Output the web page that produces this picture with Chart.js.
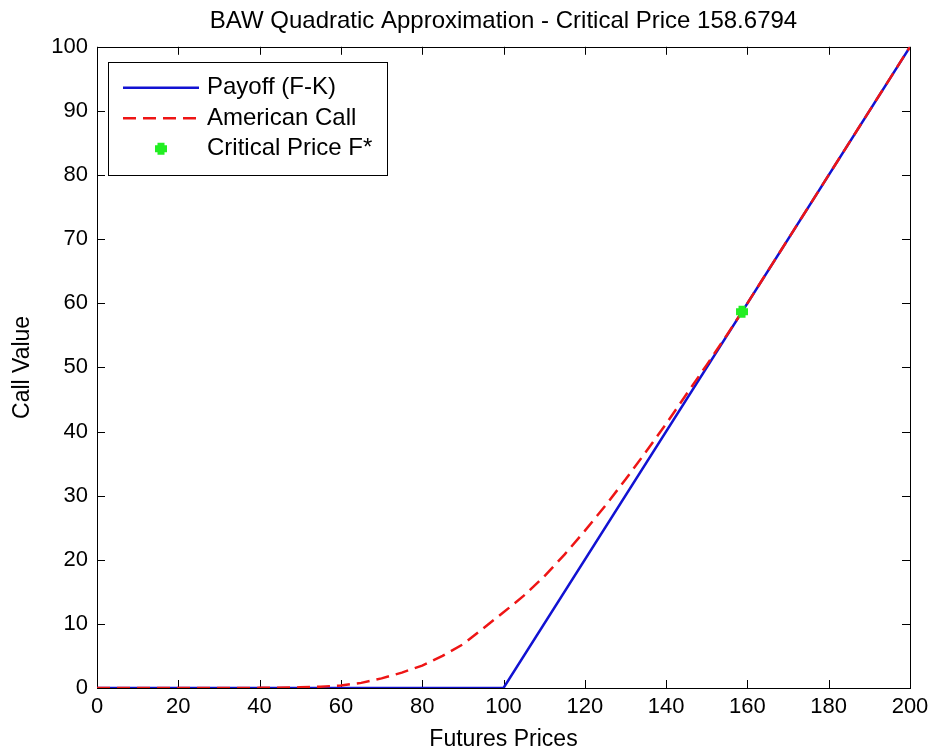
<!DOCTYPE html>
<html>
<head>
<meta charset="utf-8">
<script src="https://cdn.jsdelivr.net/npm/chart.js@4.4.1/dist/chart.umd.min.js"></script>
<style>
  html, body { margin: 0; padding: 0; background: #fff; }
  #wrap { width: 932px; height: 755px; }
</style>
</head>
<body>
<div id="wrap"><canvas id="bawChart"></canvas></div>
<script>
const ctx = document.getElementById('bawChart');

// payoff max(F-K, 0) with K = 100
const payoffPrices = [0, 100, 200]
const payoffValues = [0, 0, 100]

// BAW american call
const callPrices = [0, 10, 20, 30, 40, 50, 55, 60, 65, 70, 75, 80, 85, 90, 95, 100,
    105, 110, 115, 120, 125, 130, 135, 140, 145, 150, 155, 158.6794, 200]
const callValues = [0, 0, 0, 0, 0.02, 0.1, 0.2, 0.4, 0.8, 1.5, 2.4, 3.5, 5.0, 6.8, 9.3, 11.8,
    14.4, 17.4, 20.8, 24.5, 28.4, 32.5, 36.8, 41.2, 45.8, 50.4, 55.1, 58.6794, 100]

const criticalPrices = [158.6794]
const criticalValues = [58.6794]

const xTicks = [0, 20, 40, 60, 80, 100, 120, 140, 160, 180, 200]
const yTicks = [0, 10, 20, 30, 40, 50, 60, 70, 80, 90, 100]

const FONT = "'Liberation Sans', Arial, Helvetica, sans-serif"

const toPoints = (xs, ys) => xs.map((x, i) => ({x: x, y: ys[i]}))

// matlab style box with inward ticks on all four sides
const matlabBox = {
    id: 'matlabBox',
    beforeDatasetsDraw(chart) {
        const {ctx, chartArea: a, scales} = chart
        const len = 8
        ctx.save()
        ctx.strokeStyle = '#000'
        ctx.lineWidth = 1
        ctx.beginPath()
        xTicks.forEach(v => {
            const px = Math.round(scales.x.getPixelForValue(v)) + 0.5
            ctx.moveTo(px, a.bottom); ctx.lineTo(px, a.bottom - len)
            ctx.moveTo(px, a.top); ctx.lineTo(px, a.top + len)
        })
        yTicks.forEach(v => {
            const py = Math.round(scales.y.getPixelForValue(v)) + 0.5
            ctx.moveTo(a.left, py); ctx.lineTo(a.left + len, py)
            ctx.moveTo(a.right, py); ctx.lineTo(a.right - len, py)
        })
        ctx.stroke()
        ctx.strokeRect(Math.round(a.left) + 0.5, Math.round(a.top) + 0.5,
            Math.round(a.right - a.left), Math.round(a.bottom - a.top))
        ctx.restore()
    }
}

// legend drawn inside the axes, top left, like matlab
const insideLegend = {
    id: 'insideLegend',
    afterDraw(chart) {
        const {ctx, chartArea: a} = chart
        const x0 = a.left + 11, y0 = a.top + 15, w = 279, h = 113
        const rowH = 30.5
        ctx.save()
        ctx.fillStyle = '#fff'
        ctx.fillRect(x0, y0, w, h)
        ctx.strokeStyle = '#000'
        ctx.lineWidth = 1
        ctx.strokeRect(Math.round(x0) + 0.5, Math.round(y0) + 0.5, w, h)
        const items = chart.data.datasets.slice().sort((p, q) => p.legendIndex - q.legendIndex)
        items.forEach((ds, i) => {
            const cy = y0 + 26 + i * rowH
            if (ds.showLine) {
                ctx.beginPath()
                ctx.strokeStyle = ds.borderColor
                ctx.lineWidth = ds.borderWidth
                ctx.setLineDash(ds.borderDash || [])
                ctx.moveTo(x0 + 15, cy)
                ctx.lineTo(x0 + 91, cy)
                ctx.stroke()
                ctx.setLineDash([])
            } else {
                ctx.strokeStyle = ds.pointBorderColor
                ctx.fillStyle = ds.pointBackgroundColor
                ctx.lineWidth = ds.pointBorderWidth
                Chart.helpers.drawPoint(ctx, {
                    pointStyle: ds.pointStyle,
                    radius: ds.pointRadius,
                    borderWidth: ds.pointBorderWidth,
                    rotation: 0
                }, x0 + 53, cy)
            }
            ctx.fillStyle = '#000'
            ctx.font = '24px ' + FONT
            ctx.textBaseline = 'middle'
            ctx.fillText(ds.label, x0 + 99, cy)
        })
        ctx.restore()
    }
}

new Chart(ctx, {
    type: 'scatter',
    data: {
        datasets: [
            {
                label: 'Payoff (F-K)',
                legendIndex: 0,
                order: 2,
                data: toPoints(payoffPrices, payoffValues),
                showLine: true,
                borderColor: '#1212d2',
                borderWidth: 2.5,
                pointRadius: 0
            },
            {
                label: 'American Call',
                legendIndex: 1,
                order: 1,
                data: toPoints(callPrices, callValues),
                showLine: true,
                borderColor: '#ee1515',
                borderWidth: 2.5,
                borderDash: [13, 7],
                pointRadius: 0
            },
            {
                label: 'Critical Price F*',
                legendIndex: 2,
                order: 0,
                data: toPoints(criticalPrices, criticalValues),
                showLine: false,
                pointStyle: 'cross',
                pointRadius: 6,
                pointBorderWidth: 7,
                pointBorderColor: '#22ee22',
                pointBackgroundColor: '#22ee22'
            }
        ]
    },
    options: {
        responsive: true,
        maintainAspectRatio: false,
        animation: false,
        layout: { padding: { left: 0, top: 0, right: 22, bottom: 0 } },
        plugins: {
            legend: { display: false },
            tooltip: { enabled: false },
            title: {
                display: true,
                fullSize: false,
                text: 'BAW Quadratic Approximation - Critical Price 158.6794',
                color: '#000',
                font: { family: FONT, size: 24, weight: 'normal' },
                padding: { top: 7, bottom: 11 }
            }
        },
        scales: {
            x: {
                type: 'linear',
                min: 0,
                max: 200,
                afterBuildTicks: s => { s.ticks = xTicks.map(v => ({value: v})) },
                afterFit: s => { s.height = 67; s.paddingLeft = 0; s.paddingRight = 0 },
                grid: { display: false, drawTicks: false },
                border: { display: false },
                ticks: { color: '#000', padding: 6, maxRotation: 0, font: { family: FONT, size: 22 } },
                title: {
                    display: true,
                    text: 'Futures Prices',
                    color: '#000',
                    font: { family: FONT, size: 23 },
                    padding: { top: 0, bottom: 2 }
                }
            },
            y: {
                type: 'linear',
                min: 0,
                max: 100,
                afterBuildTicks: s => { s.ticks = yTicks.map(v => ({value: v})) },
                afterFit: s => { s.width = 97 },
                grid: { display: false, drawTicks: false },
                border: { display: false },
                ticks: { color: '#000', padding: 9, font: { family: FONT, size: 22 } },
                title: {
                    display: true,
                    text: 'Call Value',
                    color: '#000',
                    font: { family: FONT, size: 23 },
                    padding: { top: 9, bottom: 0 }
                }
            }
        }
    },
    plugins: [matlabBox, insideLegend]
});
</script>
</body>
</html>
